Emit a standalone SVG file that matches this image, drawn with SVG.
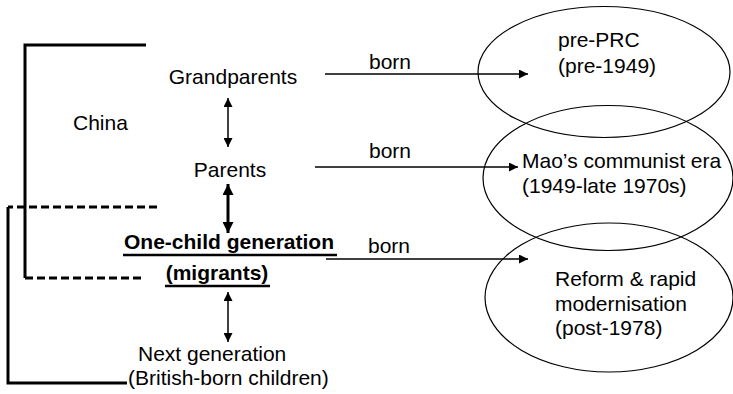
<svg xmlns="http://www.w3.org/2000/svg" width="733" height="394" viewBox="0 0 733 394">
<defs>
<style>
text{font-family:"Liberation Sans",Arial,sans-serif;font-size:21px;fill:#000}
.b{font-weight:bold}
.thin{stroke:#000;stroke-width:1.5;fill:none}
.thick{stroke:#000;stroke-width:3;fill:none}
.ul{stroke:#000;stroke-width:2.5;fill:none}
.dash{stroke:#000;stroke-width:3;fill:none;stroke-dasharray:8,4}
.ell{stroke:#000;stroke-width:1.2;fill:none}
</style>
<marker id="ah" viewBox="0 0 10 10" refX="10" refY="5" markerWidth="11" markerHeight="9" markerUnits="userSpaceOnUse" orient="auto-start-reverse"><path d="M0,0 L10,5 L0,10 z" fill="#000"/></marker>
<marker id="ahb" viewBox="0 0 10 10" refX="10" refY="5" markerWidth="12" markerHeight="11" markerUnits="userSpaceOnUse" orient="auto-start-reverse"><path d="M0,0 L10,5 L0,10 z" fill="#000"/></marker>
</defs>
<g id="brackets">
<path class="thick" d="M146,45 H25 V278"/>
<path class="dash" d="M25,278 H145"/>
<path class="dash" d="M157,207 H8"/>
<path class="thick" d="M8,207 V383 H127"/>
</g>
<g id="china"><text x="73" y="130">China</text></g>
<g id="grandparents"><text x="233" y="84" text-anchor="middle">Grandparents</text></g>
<g id="parents"><text x="230" y="177" text-anchor="middle">Parents</text></g>
<g id="onechild">
<text class="b" x="229" y="249" text-anchor="middle">One-child generation</text>
<line class="ul" x1="123" y1="255" x2="337" y2="255"/>
<text class="b" x="217" y="280" text-anchor="middle">(migrants)</text>
<line class="ul" x1="165" y1="286" x2="270" y2="286"/>
</g>
<g id="nextgen">
<text x="138" y="361">Next generation</text>
<text x="128" y="385">(British-born children)</text>
</g>
<g id="prePRC">
<ellipse class="ell" cx="604" cy="72" rx="126" ry="65.5"/>
<text x="558" y="47">pre-PRC</text>
<text x="558" y="73">(pre-1949)</text>
</g>
<g id="mao">
<ellipse class="ell" cx="608" cy="178" rx="125" ry="72.5"/>
<text x="522" y="168">Mao’s communist era</text>
<text x="522" y="193">(1949-late 1970s)</text>
</g>
<g id="reform">
<ellipse class="ell" cx="609" cy="297.5" rx="124" ry="74.5"/>
<text x="555" y="286">Reform &amp; rapid</text>
<text x="555" y="311">modernisation</text>
<text x="555" y="335">(post-1978)</text>
</g>
<g id="connectors">
<line class="thin" x1="228" y1="98" x2="228" y2="147" marker-start="url(#ah)" marker-end="url(#ah)"/>
<line class="thick" x1="228" y1="184" x2="228" y2="233" marker-start="url(#ahb)" marker-end="url(#ahb)"/>
<line class="thin" x1="228" y1="292" x2="228" y2="342" marker-start="url(#ah)" marker-end="url(#ah)"/>
<line class="thin" x1="325" y1="74" x2="528" y2="74" marker-end="url(#ah)"/>
<line class="thin" x1="315" y1="167" x2="518" y2="167" marker-end="url(#ah)"/>
<line class="thin" x1="326" y1="259" x2="528" y2="259" marker-end="url(#ah)"/>
<text x="369" y="69">born</text>
<text x="369" y="158">born</text>
<text x="368" y="253">born</text>
</g>
</svg>
